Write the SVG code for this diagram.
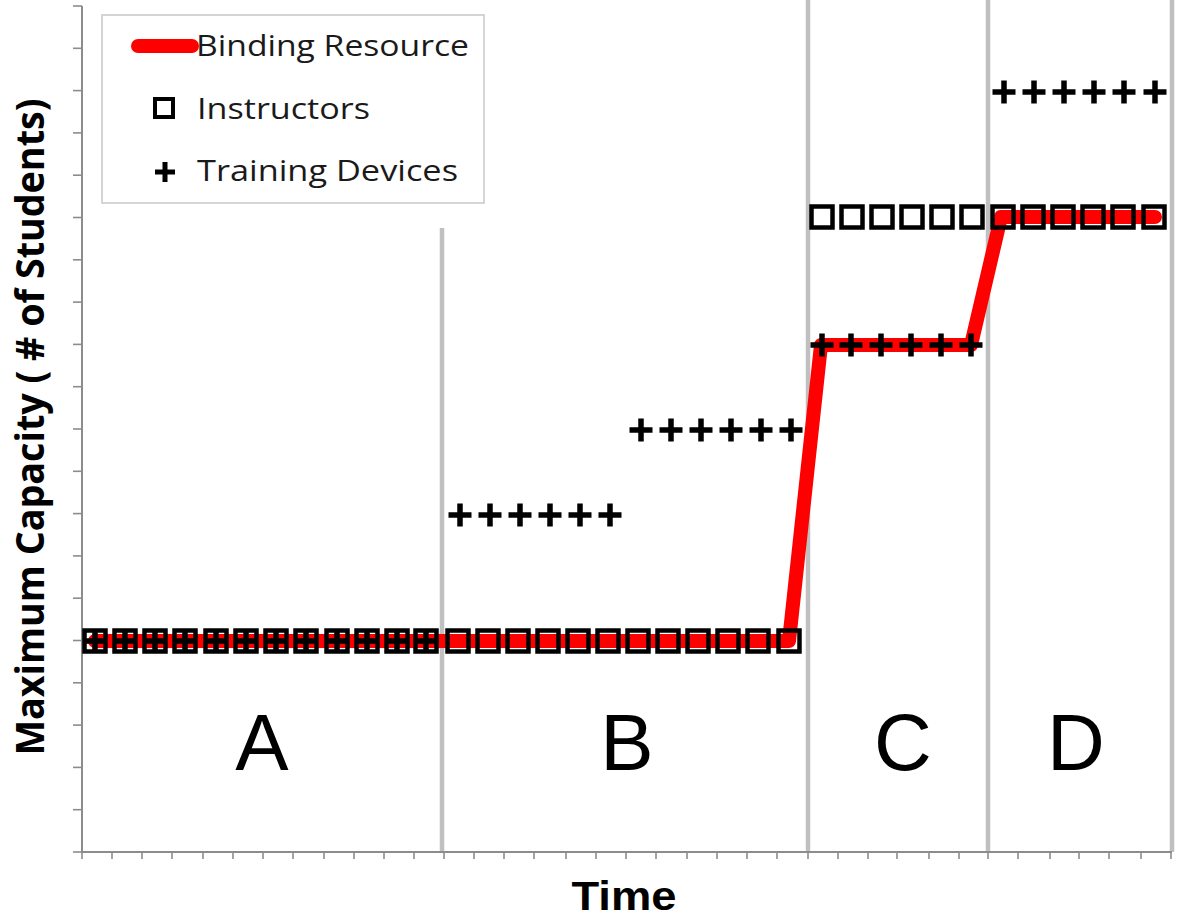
<svg xmlns="http://www.w3.org/2000/svg" xmlns:xlink="http://www.w3.org/1999/xlink" width="1179" height="919" viewBox="0 0 1179 919">
  <style>
    .axis { stroke: #8c8c8c; stroke-width: 2; fill: none; }
    .tick { stroke: #8c8c8c; stroke-width: 1.6; }
    .divider { stroke: #c0c0c0; stroke-width: 4.5; }
    .binding { stroke: #ff0000; stroke-width: 14; fill: none; stroke-linejoin: round; stroke-linecap: round; }
    .legend-box { fill: #ffffff; stroke: #c8c8c8; stroke-width: 1.5; }
    .legend-text { font-family: "Open Sans", "Noto Sans", sans-serif; font-size: 30px; fill: #1a1a1a; }
    .phase { font-family: "Liberation Sans", Arial, sans-serif; font-size: 80px; fill: #000; text-anchor: middle; }
    .axis-title { font-family: "Open Sans", "Noto Sans", sans-serif; font-weight: bold; fill: #000; text-anchor: middle; }
  </style>
  <defs>
    <!-- instructor marker: hollow square -->
    <rect id="sq" x="-10.5" y="-10.5" width="21" height="21" fill="none" stroke="#000" stroke-width="4.5"/>
    <!-- training device marker: plus -->
    <path id="pl" d="M-11.5 0H11.5M0 -11.5V11.5" stroke="#000" stroke-width="5.5" fill="none"/>
  </defs>

  <rect width="1179" height="919" fill="#ffffff"/>

  <!-- phase dividers -->
  <g id="dividers">
    <line class="divider" x1="442" y1="228" x2="442" y2="852"/>
    <line class="divider" x1="808" y1="0" x2="808" y2="852"/>
    <line class="divider" x1="988" y1="0" x2="988" y2="852"/>
    <line class="divider" x1="1172" y1="0" x2="1172" y2="852"/>
  </g>

  <!-- axes and ticks -->
  <g id="axes">
    <path class="axis" d="M82 6V852H1172"/>
    <g class="tick">
      <line x1="73" y1="6" x2="82" y2="6"/>
      <line x1="73" y1="48.3" x2="82" y2="48.3"/>
      <line x1="73" y1="90.6" x2="82" y2="90.6"/>
      <line x1="73" y1="132.9" x2="82" y2="132.9"/>
      <line x1="73" y1="175.2" x2="82" y2="175.2"/>
      <line x1="73" y1="217.5" x2="82" y2="217.5"/>
      <line x1="73" y1="259.8" x2="82" y2="259.8"/>
      <line x1="73" y1="302.1" x2="82" y2="302.1"/>
      <line x1="73" y1="344.4" x2="82" y2="344.4"/>
      <line x1="73" y1="386.7" x2="82" y2="386.7"/>
      <line x1="73" y1="429" x2="82" y2="429"/>
      <line x1="73" y1="471.3" x2="82" y2="471.3"/>
      <line x1="73" y1="513.6" x2="82" y2="513.6"/>
      <line x1="73" y1="555.9" x2="82" y2="555.9"/>
      <line x1="73" y1="598.2" x2="82" y2="598.2"/>
      <line x1="73" y1="640.5" x2="82" y2="640.5"/>
      <line x1="73" y1="682.8" x2="82" y2="682.8"/>
      <line x1="73" y1="725.1" x2="82" y2="725.1"/>
      <line x1="73" y1="767.4" x2="82" y2="767.4"/>
      <line x1="73" y1="809.7" x2="82" y2="809.7"/>
      <line x1="73" y1="852" x2="82" y2="852"/>
    </g>
    <g class="tick">
      <!-- phase A -->
      <line x1="82" y1="852" x2="82" y2="859"/>
      <line x1="112" y1="852" x2="112" y2="859"/>
      <line x1="142" y1="852" x2="142" y2="859"/>
      <line x1="172" y1="852" x2="172" y2="859"/>
      <line x1="203" y1="852" x2="203" y2="859"/>
      <line x1="233" y1="852" x2="233" y2="859"/>
      <line x1="263" y1="852" x2="263" y2="859"/>
      <line x1="293" y1="852" x2="293" y2="859"/>
      <line x1="324" y1="852" x2="324" y2="859"/>
      <line x1="354" y1="852" x2="354" y2="859"/>
      <line x1="384" y1="852" x2="384" y2="859"/>
      <line x1="414" y1="852" x2="414" y2="859"/>
      <!-- phase B -->
      <line x1="444" y1="852" x2="444" y2="859"/>
      <line x1="474" y1="852" x2="474" y2="859"/>
      <line x1="504" y1="852" x2="504" y2="859"/>
      <line x1="534" y1="852" x2="534" y2="859"/>
      <line x1="566" y1="852" x2="566" y2="859"/>
      <line x1="596" y1="852" x2="596" y2="859"/>
      <line x1="626" y1="852" x2="626" y2="859"/>
      <line x1="656" y1="852" x2="656" y2="859"/>
      <line x1="687" y1="852" x2="687" y2="859"/>
      <line x1="717" y1="852" x2="717" y2="859"/>
      <line x1="747" y1="852" x2="747" y2="859"/>
      <line x1="777" y1="852" x2="777" y2="859"/>
      <!-- phase C -->
      <line x1="808" y1="852" x2="808" y2="859"/>
      <line x1="838" y1="852" x2="838" y2="859"/>
      <line x1="868" y1="852" x2="868" y2="859"/>
      <line x1="897" y1="852" x2="897" y2="859"/>
      <line x1="929" y1="852" x2="929" y2="859"/>
      <line x1="959" y1="852" x2="959" y2="859"/>
      <!-- phase D -->
      <line x1="988" y1="852" x2="988" y2="859"/>
      <line x1="1018" y1="852" x2="1018" y2="859"/>
      <line x1="1050" y1="852" x2="1050" y2="859"/>
      <line x1="1079" y1="852" x2="1079" y2="859"/>
      <line x1="1109" y1="852" x2="1109" y2="859"/>
      <line x1="1141" y1="852" x2="1141" y2="859"/>
      <line x1="1171" y1="852" x2="1171" y2="859"/>
    </g>
  </g>

  <!-- binding resource series -->
  <g id="series-binding">
    <path class="binding" d="M95 641H789L821 345H971L1001 217H1155"/>
  </g>

  <!-- instructor capacity series -->
  <g id="series-instructors">
    <use xlink:href="#sq" x="95" y="641"/>
    <use xlink:href="#sq" x="125" y="641"/>
    <use xlink:href="#sq" x="155" y="641"/>
    <use xlink:href="#sq" x="185" y="641"/>
    <use xlink:href="#sq" x="216" y="641"/>
    <use xlink:href="#sq" x="246" y="641"/>
    <use xlink:href="#sq" x="276" y="641"/>
    <use xlink:href="#sq" x="306" y="641"/>
    <use xlink:href="#sq" x="337" y="641"/>
    <use xlink:href="#sq" x="367" y="641"/>
    <use xlink:href="#sq" x="397" y="641"/>
    <use xlink:href="#sq" x="426" y="641"/>
    <use xlink:href="#sq" x="458" y="641"/>
    <use xlink:href="#sq" x="488" y="641"/>
    <use xlink:href="#sq" x="518" y="641"/>
    <use xlink:href="#sq" x="548" y="641"/>
    <use xlink:href="#sq" x="578" y="641"/>
    <use xlink:href="#sq" x="608" y="641"/>
    <use xlink:href="#sq" x="638" y="641"/>
    <use xlink:href="#sq" x="668" y="641"/>
    <use xlink:href="#sq" x="698" y="641"/>
    <use xlink:href="#sq" x="728" y="641"/>
    <use xlink:href="#sq" x="758" y="641"/>
    <use xlink:href="#sq" x="789" y="641"/>
    <use xlink:href="#sq" x="822" y="217"/>
    <use xlink:href="#sq" x="852" y="217"/>
    <use xlink:href="#sq" x="882" y="217"/>
    <use xlink:href="#sq" x="912" y="217"/>
    <use xlink:href="#sq" x="942" y="217"/>
    <use xlink:href="#sq" x="972" y="217"/>
    <use xlink:href="#sq" x="1003" y="217"/>
    <use xlink:href="#sq" x="1033" y="217"/>
    <use xlink:href="#sq" x="1063" y="217"/>
    <use xlink:href="#sq" x="1093" y="217"/>
    <use xlink:href="#sq" x="1123" y="217"/>
    <use xlink:href="#sq" x="1154" y="217"/>
  </g>

  <!-- training device capacity series -->
  <g id="series-devices">
    <use xlink:href="#pl" x="95" y="641"/>
    <use xlink:href="#pl" x="125" y="641"/>
    <use xlink:href="#pl" x="155" y="641"/>
    <use xlink:href="#pl" x="185" y="641"/>
    <use xlink:href="#pl" x="216" y="641"/>
    <use xlink:href="#pl" x="246" y="641"/>
    <use xlink:href="#pl" x="276" y="641"/>
    <use xlink:href="#pl" x="306" y="641"/>
    <use xlink:href="#pl" x="337" y="641"/>
    <use xlink:href="#pl" x="367" y="641"/>
    <use xlink:href="#pl" x="397" y="641"/>
    <use xlink:href="#pl" x="426" y="641"/>
    <use xlink:href="#pl" x="460" y="515"/>
    <use xlink:href="#pl" x="490" y="515"/>
    <use xlink:href="#pl" x="520" y="515"/>
    <use xlink:href="#pl" x="550" y="515"/>
    <use xlink:href="#pl" x="580" y="515"/>
    <use xlink:href="#pl" x="610" y="515"/>
    <use xlink:href="#pl" x="641" y="430"/>
    <use xlink:href="#pl" x="671" y="430"/>
    <use xlink:href="#pl" x="701" y="430"/>
    <use xlink:href="#pl" x="731" y="430"/>
    <use xlink:href="#pl" x="761" y="430"/>
    <use xlink:href="#pl" x="791" y="430"/>
    <use xlink:href="#pl" x="822" y="345"/>
    <use xlink:href="#pl" x="851" y="345"/>
    <use xlink:href="#pl" x="881" y="345"/>
    <use xlink:href="#pl" x="911" y="345"/>
    <use xlink:href="#pl" x="941" y="345"/>
    <use xlink:href="#pl" x="971" y="345"/>
    <use xlink:href="#pl" x="1004" y="92"/>
    <use xlink:href="#pl" x="1034" y="92"/>
    <use xlink:href="#pl" x="1064" y="92"/>
    <use xlink:href="#pl" x="1094" y="92"/>
    <use xlink:href="#pl" x="1124" y="92"/>
    <use xlink:href="#pl" x="1155" y="92"/>
  </g>

  <!-- legend -->
  <g id="legend">
    <rect class="legend-box" x="102" y="15" width="382" height="188"/>
    <line class="binding" x1="138" y1="46" x2="192" y2="46"/>
    <text class="legend-text" x="196" y="56" textLength="273" lengthAdjust="spacingAndGlyphs">Binding Resource</text>
    <rect x="155" y="99" width="18" height="18" fill="none" stroke="#000" stroke-width="4"/>
    <text class="legend-text" x="197" y="119" textLength="173" lengthAdjust="spacingAndGlyphs">Instructors</text>
    <path d="M155 172H175M165 162V182" stroke="#000" stroke-width="5" fill="none"/>
    <text class="legend-text" x="197" y="181" textLength="261" lengthAdjust="spacingAndGlyphs">Training Devices</text>
  </g>

  <!-- phase labels -->
  <g id="phase-labels">
    <text class="phase" x="262" y="770">A</text>
    <text class="phase" x="627" y="770">B</text>
    <text class="phase" x="903" y="770">C</text>
    <text class="phase" x="1076" y="770">D</text>
  </g>

  <!-- axis titles -->
  <g id="axis-titles">
    <text class="axis-title" x="624" y="910" font-size="40" textLength="105" lengthAdjust="spacingAndGlyphs" style="font-family: 'Liberation Sans', Arial, sans-serif;">Time</text>
    <text class="axis-title" transform="translate(44 427) rotate(-90)" x="0" y="0" font-size="39" textLength="657" lengthAdjust="spacingAndGlyphs">Maximum Capacity ( # of Students)</text>
  </g>
</svg>
